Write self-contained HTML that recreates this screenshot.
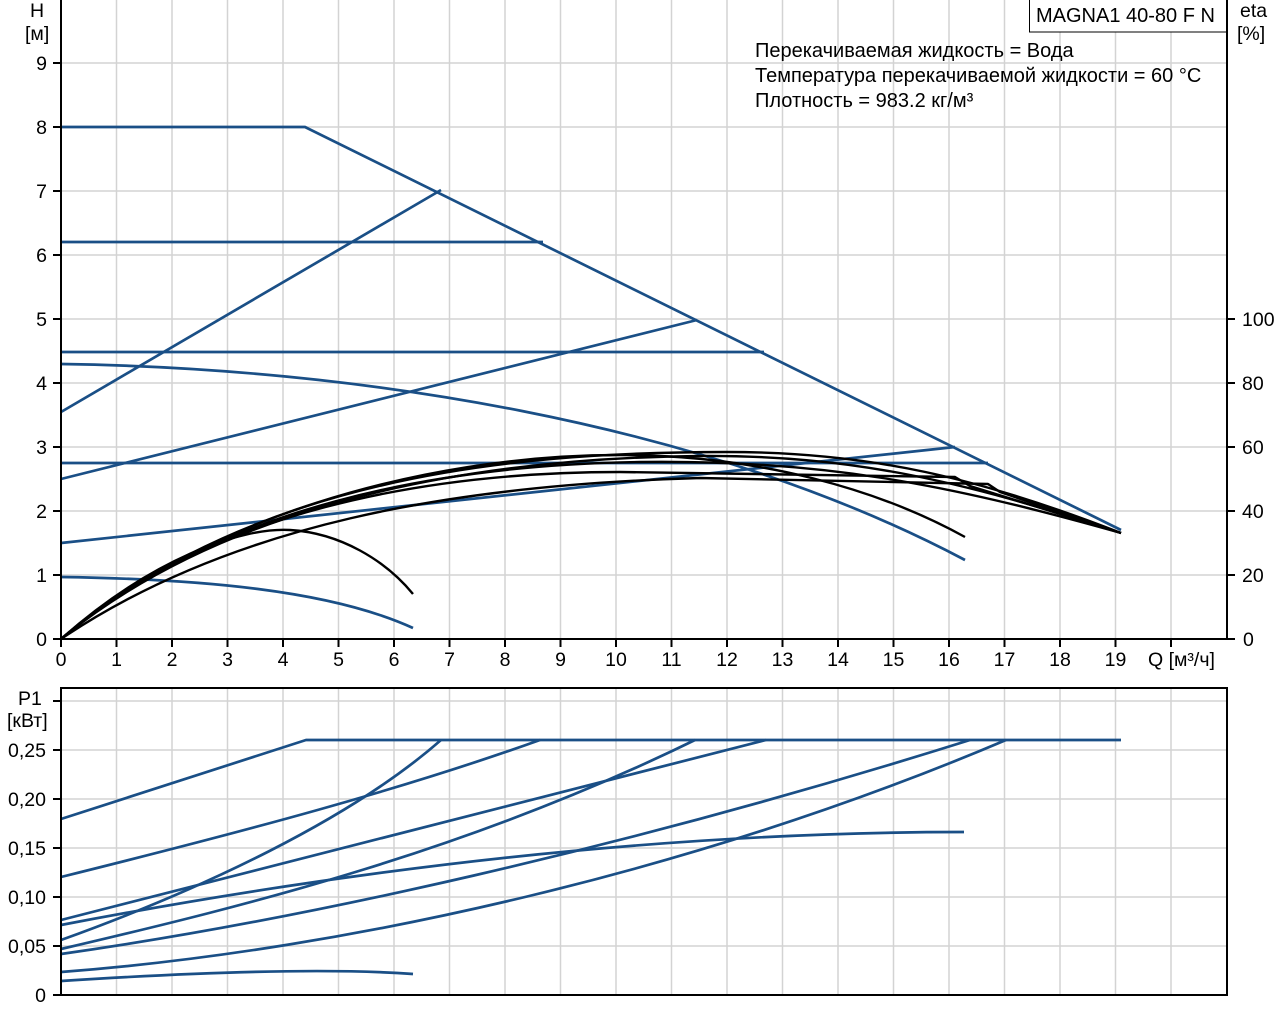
<!DOCTYPE html>
<html><head><meta charset="utf-8"><style>
html,body{margin:0;padding:0;background:#fff;}
svg{display:block;}
text{font-family:"Liberation Sans",sans-serif;font-size:19.5px;fill:#000;}
text.big{font-size:20px;}
</style></head><body>
<svg width="1280" height="1024" viewBox="0 0 1280 1024" xmlns="http://www.w3.org/2000/svg">
<g stroke="#d3d3d3" stroke-width="1.5">
<line x1="116.5" y1="0" x2="116.5" y2="639"/><line x1="172" y1="0" x2="172" y2="639"/><line x1="227.5" y1="0" x2="227.5" y2="639"/><line x1="283" y1="0" x2="283" y2="639"/><line x1="338.5" y1="0" x2="338.5" y2="639"/><line x1="394" y1="0" x2="394" y2="639"/><line x1="449.5" y1="0" x2="449.5" y2="639"/><line x1="505" y1="0" x2="505" y2="639"/><line x1="560.5" y1="0" x2="560.5" y2="639"/><line x1="616" y1="0" x2="616" y2="639"/><line x1="671.5" y1="0" x2="671.5" y2="639"/><line x1="727" y1="0" x2="727" y2="639"/><line x1="782.5" y1="0" x2="782.5" y2="639"/><line x1="838" y1="0" x2="838" y2="639"/><line x1="893.5" y1="0" x2="893.5" y2="639"/><line x1="949" y1="0" x2="949" y2="639"/><line x1="1004.5" y1="0" x2="1004.5" y2="639"/><line x1="1060" y1="0" x2="1060" y2="639"/><line x1="1115.5" y1="0" x2="1115.5" y2="639"/><line x1="1171" y1="0" x2="1171" y2="639"/>
<line x1="61" y1="575" x2="1227" y2="575"/><line x1="61" y1="511" x2="1227" y2="511"/><line x1="61" y1="447" x2="1227" y2="447"/><line x1="61" y1="383" x2="1227" y2="383"/><line x1="61" y1="319" x2="1227" y2="319"/><line x1="61" y1="255" x2="1227" y2="255"/><line x1="61" y1="191" x2="1227" y2="191"/><line x1="61" y1="127" x2="1227" y2="127"/><line x1="61" y1="63" x2="1227" y2="63"/>
<line x1="116.5" y1="688" x2="116.5" y2="995"/><line x1="172" y1="688" x2="172" y2="995"/><line x1="227.5" y1="688" x2="227.5" y2="995"/><line x1="283" y1="688" x2="283" y2="995"/><line x1="338.5" y1="688" x2="338.5" y2="995"/><line x1="394" y1="688" x2="394" y2="995"/><line x1="449.5" y1="688" x2="449.5" y2="995"/><line x1="505" y1="688" x2="505" y2="995"/><line x1="560.5" y1="688" x2="560.5" y2="995"/><line x1="616" y1="688" x2="616" y2="995"/><line x1="671.5" y1="688" x2="671.5" y2="995"/><line x1="727" y1="688" x2="727" y2="995"/><line x1="782.5" y1="688" x2="782.5" y2="995"/><line x1="838" y1="688" x2="838" y2="995"/><line x1="893.5" y1="688" x2="893.5" y2="995"/><line x1="949" y1="688" x2="949" y2="995"/><line x1="1004.5" y1="688" x2="1004.5" y2="995"/><line x1="1060" y1="688" x2="1060" y2="995"/><line x1="1115.5" y1="688" x2="1115.5" y2="995"/><line x1="1171" y1="688" x2="1171" y2="995"/>
<line x1="61" y1="946" x2="1227" y2="946"/><line x1="61" y1="897" x2="1227" y2="897"/><line x1="61" y1="848" x2="1227" y2="848"/><line x1="61" y1="799" x2="1227" y2="799"/><line x1="61" y1="750" x2="1227" y2="750"/><line x1="61" y1="701" x2="1227" y2="701"/>
</g>

<rect x="1029.5" y="-1" width="197" height="33" fill="#fff" stroke="#000" stroke-width="1"/>
<text class="big" x="1036" y="22">MAGNA1 40-80 F N</text>
<text class="big" x="755" y="57">Перекачиваемая жидкость = Вода</text>
<text class="big" x="755" y="82">Температура перекачиваемой жидкости = 60 °C</text>
<text class="big" x="755" y="107">Плотность = 983.2 кг/м³</text>

<g fill="none" stroke="#1a4f86" stroke-width="2.7" stroke-linejoin="round">
<polyline points="61,127 305,127 1121,530"/>
<polyline points="61,412 441,190"/>
<polyline points="61,479 697,320"/>
<polyline points="61,543 955,447"/>
<polyline points="61,242 543,242"/>
<polyline points="61,352 764,352"/>
<polyline points="61,463 988,463"/>
<path d="M61,364 C350,368 700,420 965,560"/>
<path d="M61,577 C200,579 330,590 413,628"/>
</g>
<g fill="none" stroke="#000" stroke-width="2.4" stroke-linejoin="round">
<path d="M61,639 C150,560 240,527 290,530 C340,533 385,560 413,594"/>
<path d="M61,639 C200,520 420,455 620,455 C760,455 880,490 965,537"/>
<path d="M61,639 C250,480 500,452 727,452 C870,452 980,478 1121,533"/>
<path d="M61,639 C230,500 480,458 700,456 C850,455 960,480 1121,533"/>
<path d="M61,639 C210,510 430,472 620,472 L955,477 L970,486 L1121,533"/>
<path d="M61,639 C230,525 450,485 700,478 L988,484 L1000,492 L1121,533"/>
<path d="M61,639 C220,505 440,465 640,462 C820,460 940,482 1121,533"/>
</g>

<g stroke="#000" stroke-width="2" fill="none">
<line x1="61" y1="0" x2="61" y2="640"/>
<line x1="60" y1="639" x2="1228" y2="639"/>
<line x1="1227" y1="0" x2="1227" y2="640"/>
<path d="M53,639H61M53,575H61M53,511H61M53,447H61M53,383H61M53,319H61M53,255H61M53,191H61M53,127H61M53,63H61"/>
<path d="M1227,639H1235M1227,575H1235M1227,511H1235M1227,447H1235M1227,383H1235M1227,319H1235"/>
<path d="M61,639V647M116.5,639V647M172,639V647M227.5,639V647M283,639V647M338.5,639V647M394,639V647M449.5,639V647M505,639V647M560.5,639V647M616,639V647M671.5,639V647M727,639V647M782.5,639V647M838,639V647M893.5,639V647M949,639V647M1004.5,639V647M1060,639V647M1115.5,639V647M1171,639V647"/>
</g>
<text x="30" y="17">H</text>
<text x="25" y="40">[м]</text>
<g text-anchor="end">
<text x="47" y="646">0</text><text x="47" y="582">1</text><text x="47" y="518">2</text><text x="47" y="454">3</text><text x="47" y="390">4</text><text x="47" y="326">5</text><text x="47" y="262">6</text><text x="47" y="198">7</text><text x="47" y="134">8</text><text x="47" y="70">9</text>
</g>
<text x="1240" y="17">eta</text>
<text x="1237" y="40">[%]</text>
<g>
<text x="1243" y="646">0</text><text x="1242" y="582">20</text><text x="1242" y="518">40</text><text x="1242" y="454">60</text><text x="1242" y="390">80</text><text x="1242" y="326">100</text>
</g>
<g text-anchor="middle">
<text x="61" y="666">0</text><text x="116.5" y="666">1</text><text x="172" y="666">2</text><text x="227.5" y="666">3</text><text x="283" y="666">4</text><text x="338.5" y="666">5</text><text x="394" y="666">6</text><text x="449.5" y="666">7</text><text x="505" y="666">8</text><text x="560.5" y="666">9</text><text x="616" y="666">10</text><text x="671.5" y="666">11</text><text x="727" y="666">12</text><text x="782.5" y="666">13</text><text x="838" y="666">14</text><text x="893.5" y="666">15</text><text x="949" y="666">16</text><text x="1004.5" y="666">17</text><text x="1060" y="666">18</text><text x="1115.5" y="666">19</text>
</g>
<text x="1148" y="666">Q [м³/ч]</text>

<g fill="none" stroke="#1a4f86" stroke-width="2.7" stroke-linejoin="round">
<polyline points="61,819 306,740 1121,740"/>
<path d="M61,877 C250,830 400,790 540,740"/>
<path d="M61,940 C200,890 350,820 441,740"/>
<path d="M61,920 L766,740"/>
<path d="M61,925 C400,860 700,832 964,832"/>
<path d="M61,949 C250,905 470,850 695,740"/>
<path d="M61,954 C300,920 620,850 970,740"/>
<path d="M61,972 C350,950 700,870 1006,740"/>
<path d="M61,981 C200,972 330,968 413,974"/>
</g>
<g stroke="#000" stroke-width="2" fill="none">
<rect x="61" y="688" width="1166" height="307"/>
<path d="M53,995H61M53,946H61M53,897H61M53,848H61M53,799H61M53,750H61M53,701H61"/>
</g>
<text x="18" y="705">P1</text>
<text x="7" y="727">[кВт]</text>
<g text-anchor="end">
<text x="46" y="1002">0</text><text x="46" y="953">0,05</text><text x="46" y="904">0,10</text><text x="46" y="855">0,15</text><text x="46" y="806">0,20</text><text x="46" y="757">0,25</text>
</g>
</svg>
</body></html>
